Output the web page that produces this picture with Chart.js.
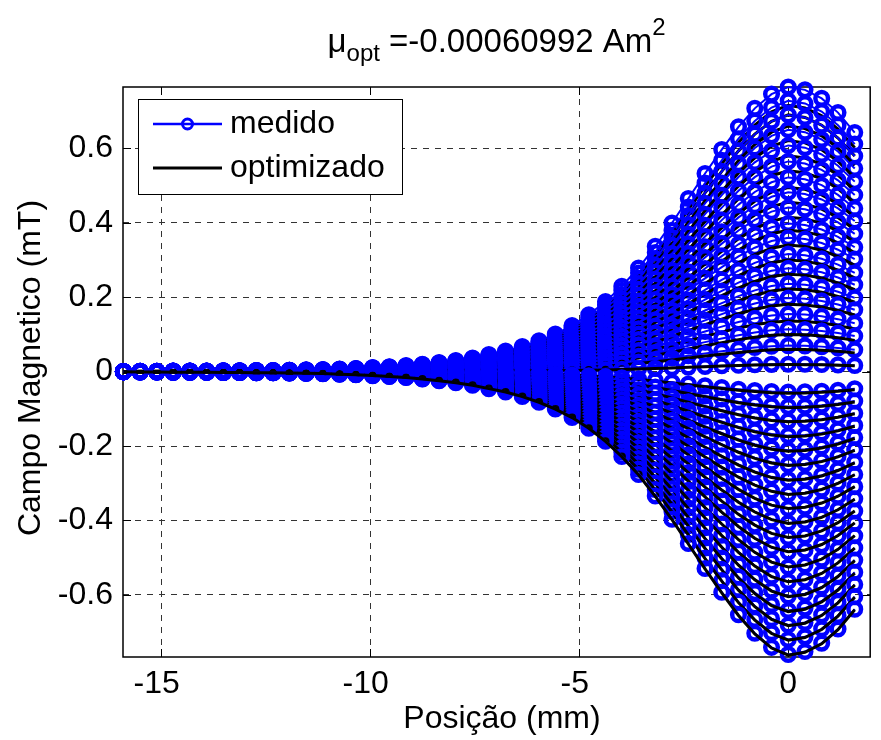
<!DOCTYPE html>
<html lang="pt">
<head>
<meta charset="UTF-8">
<title>Campo Magnetico - medido vs optimizado</title>
<script src="https://cdn.jsdelivr.net/npm/chart.js"></script>
<style>
  html, body { margin: 0; padding: 0; background: #fff; }
</style>
</head>
<body>
<canvas id="campo" width="881" height="740"></canvas>
<script>
// posicao do sensor ao longo do varrimento (mm)
const posicao = [-15.90, -15.50, -15.10, -14.71, -14.31, -13.91, -13.51, -13.12, -12.72, -12.32,
                 -11.93, -11.53, -11.13, -10.73, -10.34, -9.94, -9.54, -9.14, -8.75, -8.35,
                 -7.95, -7.55, -7.16, -6.76, -6.36, -5.96, -5.57, -5.17, -4.77, -4.37,
                 -3.98, -3.58, -3.18, -2.78, -2.39, -1.99, -1.59, -1.19, -0.80, -0.40,
                 0.00, 0.40, 0.80, 1.19, 1.59];
// perfil normalizado do campo em cada posicao (1 em x = 0)
const perfil = [0.000, 0.001, 0.001, 0.002, 0.002, 0.002, 0.003, 0.003, 0.004, 0.004,
                0.005, 0.006, 0.007, 0.009, 0.011, 0.014, 0.017, 0.021, 0.026, 0.032,
                0.039, 0.048, 0.060, 0.072, 0.088, 0.108, 0.132, 0.162, 0.200, 0.246,
                0.300, 0.364, 0.440, 0.522, 0.608, 0.696, 0.780, 0.860, 0.925, 0.975,
                1.000, 0.990, 0.960, 0.910, 0.840];
// pico de cada linha de varrimento em x = 0 (mT)
const picoMedido = [0.765, 0.728, 0.690, 0.650, 0.608, 0.565, 0.522, 0.482, 0.441, 0.398,
                    0.360, 0.316, 0.278, 0.236, 0.198, 0.155, 0.114, 0.070, 0.020,
                    -0.055, -0.094, -0.133, -0.172, -0.211, -0.250, -0.290, -0.329, -0.368,
                    -0.407, -0.446, -0.485, -0.525, -0.564, -0.603, -0.642, -0.681, -0.720, -0.760];
const picoOptimizado = [0.716, 0.690, 0.660, 0.621, 0.580, 0.540, 0.495, 0.455, 0.415, 0.380,
                        0.340, 0.300, 0.262, 0.222, 0.181, 0.136, 0.100, 0.060, 0.019,
                        -0.058, -0.097, -0.135, -0.175, -0.214, -0.252, -0.292, -0.330, -0.368,
                        -0.408, -0.446, -0.484, -0.525, -0.565, -0.605, -0.645, -0.683, -0.722, -0.762];
const xTicks = [-15, -10, -5, 0];
const yTicks = [-0.6, -0.4, -0.2, 0, 0.2, 0.4, 0.6];

const FONTE = '"Liberation Sans", Arial, Helvetica, sans-serif';
const AZUL = '#0000ff';

// uma serie medida (circulos) e uma optimizada (linha) por cada linha de varrimento
const curvas = [];
picoMedido.forEach((pm, i) => {
  curvas.push({
    label: 'medido',
    data: posicao.map((x, k) => ({ x: x, y: pm * perfil[k] })),
    borderColor: AZUL,
    borderWidth: 2,
    pointStyle: 'circle',
    pointRadius: 6.3,
    pointBorderWidth: 4.5,
    pointBorderColor: AZUL,
    pointBackgroundColor: 'rgba(0,0,0,0)',
    tension: 0,
    clip: false
  });
  curvas.push({
    label: 'optimizado',
    data: posicao.map((x, k) => ({ x: x, y: picoOptimizado[i] * perfil[k] })),
    borderColor: '#000',
    borderWidth: 3,
    pointRadius: 0,
    tension: 0
  });
});
// as ultimas curvas ficam por cima
curvas.forEach((d, i) => { d.order = curvas.length - i; });

function linha(ctx, x1, y1, x2, y2) {
  ctx.beginPath();
  ctx.moveTo(x1, y1);
  ctx.lineTo(x2, y2);
  ctx.stroke();
}

const moldura = {
  id: 'moldura',
  beforeDatasetsDraw(chart) {
    const { ctx, chartArea: a, scales: { x, y } } = chart;
    ctx.save();
    ctx.strokeStyle = '#000';
    ctx.lineWidth = 1;
    xTicks.forEach(v => {
      const px = Math.round(x.getPixelForValue(v)) + 0.5;
      linha(ctx, px, a.bottom, px, a.bottom - 8);
      linha(ctx, px, a.top, px, a.top + 8);
    });
    yTicks.forEach(v => {
      const py = Math.round(y.getPixelForValue(v)) + 0.5;
      linha(ctx, a.left, py, a.left + 8, py);
      linha(ctx, a.right, py, a.right - 8, py);
    });
    ctx.lineWidth = 1.5;
    ctx.strokeRect(a.left, a.top, a.right - a.left, a.bottom - a.top);
    ctx.restore();
  },
  afterDraw(chart) {
    const { ctx, chartArea: a } = chart;
    ctx.save();
    ctx.fillStyle = '#000';
    ctx.textBaseline = 'alphabetic';

    // titulo com indice e expoente
    const fGrande = '33px ' + FONTE, fPequena = '24px ' + FONTE;
    const partes = [
      { t: '\u03bc', f: fGrande, dy: 0 },
      { t: 'opt', f: fPequena, dy: 9 },
      { t: ' =-0.00060992 Am', f: fGrande, dy: 0 },
      { t: '2', f: fPequena, dy: -17 }
    ];
    let total = 0;
    partes.forEach(p => { ctx.font = p.f; p.w = ctx.measureText(p.t).width; total += p.w; });
    let cx = (a.left + a.right) / 2 - total / 2;
    partes.forEach(p => {
      ctx.font = p.f;
      ctx.textAlign = 'left';
      ctx.fillText(p.t, cx, 52 + p.dy);
      cx += p.w;
    });

    // titulos dos eixos
    ctx.font = '32px ' + FONTE;
    ctx.textAlign = 'center';
    ctx.textBaseline = 'middle';
    ctx.fillText('Posi\u00e7\u00e3o (mm)', 502, 719);
    ctx.save();
    ctx.translate(31, 368);
    ctx.rotate(-Math.PI / 2);
    ctx.fillText('Campo Magnetico (mT)', 0, 0);
    ctx.restore();

    // legenda
    ctx.fillStyle = '#fff';
    ctx.fillRect(138, 99, 264, 95);
    ctx.strokeStyle = '#000';
    ctx.lineWidth = 1;
    ctx.strokeRect(138.5, 99.5, 264, 95);
    ctx.strokeStyle = AZUL;
    ctx.lineWidth = 2.5;
    linha(ctx, 153, 124, 222, 124);
    ctx.lineWidth = 3;
    ctx.beginPath();
    ctx.arc(187.5, 124, 5, 0, Math.PI * 2);
    ctx.stroke();
    ctx.strokeStyle = '#000';
    linha(ctx, 153, 168, 222, 168);
    ctx.fillStyle = '#000';
    ctx.textAlign = 'left';
    ctx.fillText('medido', 230, 124);
    ctx.fillText('optimizado', 230, 168);
    ctx.restore();
  }
};

new Chart(document.getElementById('campo'), {
  type: 'line',
  data: { datasets: curvas },
  options: {
    responsive: false,
    animation: false,
    devicePixelRatio: 1,
    layout: { padding: { top: 87, right: 3, left: 0, bottom: 0 } },
    plugins: { legend: { display: false }, tooltip: { enabled: false }, title: { display: false } },
    scales: {
      x: {
        type: 'linear',
        min: -15.91,
        max: 1.96,
        afterBuildTicks: s => { s.ticks = xTicks.map(v => ({ value: v })); },
        afterFit: s => { s.height = 83; },
        grid: { color: '#333', lineWidth: 1, drawTicks: false },
        border: { display: false, dash: [6, 6] },
        ticks: {
          padding: 8,
          color: '#000',
          font: { size: 32, family: FONTE },
          maxRotation: 0,
          callback: v => (v < 0 ? v + ' ' : String(v))
        }
      },
      y: {
        type: 'linear',
        min: -0.767,
        max: 0.765,
        afterBuildTicks: s => { s.ticks = yTicks.map(v => ({ value: v })); },
        afterFit: s => { s.width = 123; },
        grid: { color: '#333', lineWidth: 1, drawTicks: false },
        border: { display: false, dash: [6, 6] },
        ticks: {
          padding: 10,
          color: '#000',
          font: { size: 32, family: FONTE },
          callback: v => (v === 0 ? '0' : v.toFixed(1))
        }
      }
    }
  },
  plugins: [moldura]
});
</script>
</body>
</html>
